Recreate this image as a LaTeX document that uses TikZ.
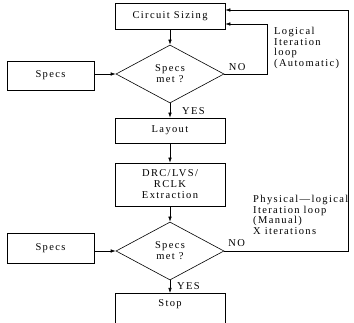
\documentclass[tikz,border=0pt]{standalone}
\usepackage{fontspec}
\setmainfont{Liberation Serif}[LetterSpace=13]
\usetikzlibrary{shapes.geometric,arrows.meta}
\newcommand{\flowfont}{\fontsize{10.5pt}{11pt}\selectfont}
\begin{document}
\begin{tikzpicture}
[x=1pt,y=1pt,
  boxdecorate/.style={shape=rectangle,draw,line width=0.6pt,inner sep=0pt,
    minimum width=110pt,align=center,font=\flowfont},
  diamonddecorate/.style={shape=diamond,draw,line width=0.6pt,inner sep=0pt,
    aspect=1.9,minimum width=108pt,minimum height=58pt,align=center,font=\flowfont},
  notedecorate/.style={inner sep=0pt,align=left,font=\fontsize{10.5pt}{10.7pt}\selectfont},
  labeldecorate/.style={inner sep=0pt,font=\flowfont},
  linedecorate/.style={-{Latex[length=5pt,width=3.5pt]},line width=0.6pt}]
\useasboundingbox (0,0) rectangle (354,-323);
%% boxes and decisions
\node (sizing) at (170,-16) [boxdecorate,minimum height=26pt] {Circuit Sizing};
\node (check1) at (170,-74) [diamonddecorate] {Specs\\met ?};
\node (specs1) at (50.5,-75.5) [boxdecorate,minimum width=87pt,minimum height=29pt] {Specs};
\node (layout) at (170,-130.5) [boxdecorate,minimum height=25pt] {Layout};
\node (extract) at (170,-184.5) [boxdecorate,minimum height=43pt] {DRC/LVS/\\RCLK\\Extraction};
\node (check2) at (170,-251) [diamonddecorate] {Specs\\met ?};
\node (specs2) at (50.5,-248) [boxdecorate,minimum width=87pt,minimum height=30pt] {Specs};
\node (stop) at (170,-293) [boxdecorate,anchor=north,inner ysep=6pt,text depth=26pt] {Stop};
%% labels
\node (yes1) at (182,-111) [labeldecorate,anchor=west] {YES};
\node (yes2) at (177,-286) [labeldecorate,anchor=west] {YES};
\node (autonote) at (274,-27) [notedecorate,anchor=north west] {Logical\\Iteration\\loop\\(Automatic)};
\node (manualnote) at (253,-195) [notedecorate,anchor=north west] {Physical—logical\\Iteration loop\\(Manual)\\X iterations};
%% main flow
\path
\foreach \startnode/\endnode in {sizing/check1, check1/layout, layout/extract, extract/check2, check2/stop} {
  (\startnode) edge[linedecorate] (\endnode)
};
\draw[linedecorate] (specs1.east |- check1.west) -- (check1.west);
\draw[linedecorate] (specs2.east |- check2.west) -- (check2.west);
%% iteration loops
\draw[linedecorate] (check1.east) -- node[labeldecorate,pos=0.3,above=3pt] {NO} ++(43,0)
  |- ([yshift=-8pt]sizing.east);
\draw[linedecorate] (check2.east) -- node[labeldecorate,pos=0.1,above=4pt] {NO} ++(124,0)
  |- ([yshift=6pt]sizing.east);
\end{tikzpicture}
\end{document}
